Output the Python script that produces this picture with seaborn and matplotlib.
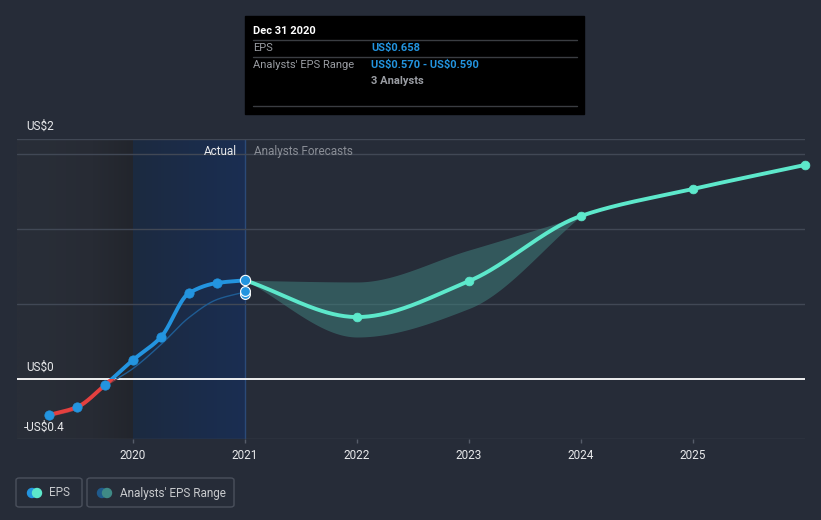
import numpy as np
import pandas as pd
import matplotlib
matplotlib.use("Agg")
import matplotlib.pyplot as plt
import seaborn as sns
from matplotlib.patches import Rectangle, FancyBboxPatch, Ellipse
from matplotlib.colors import LinearSegmentedColormap

# ---- data ----
actual_x = [2019.25, 2019.5, 2019.75, 2020.0, 2020.25, 2020.5, 2020.75, 2021.0]
actual_eps = [-0.24, -0.187, -0.04, 0.127, 0.28, 0.573, 0.64, 0.658]
past_estimate = [-0.25, -0.20, -0.05, 0.07, 0.23, 0.41, 0.53, 0.58]

forecast_x = [2021.0, 2022.0, 2023.0, 2024.0, 2025.0, 2026.0]
forecast_eps = [0.658, 0.413, 0.653, 1.087, 1.267, 1.427]

range_x = [2021.0, 2022.0, 2023.0, 2024.0]
range_low = [0.658, 0.28, 0.47, 1.087]
range_high = [0.658, 0.647, 0.86, 1.087]

last_range = [0.570, 0.590]
year_ticks = [2020, 2021, 2022, 2023, 2024, 2025]

BG = '#262c38'
BLUE = '#2394df'
RED = '#e4403f'
TEAL = '#5de8cb'
GRID = '#414855'

W, H = 821, 520


def monotone(x, y, n=300):
    # Fritsch-Carlson monotone cubic, just for drawing smooth curves
    x = np.asarray(x, float); y = np.asarray(y, float)
    h = np.diff(x); d = np.diff(y) / h
    m = np.zeros_like(y)
    m[0], m[-1] = d[0], d[-1]
    for i in range(1, len(y) - 1):
        if d[i - 1] * d[i] <= 0:
            m[i] = 0
        else:
            w1 = 2 * h[i] + h[i - 1]; w2 = h[i] + 2 * h[i - 1]
            m[i] = (w1 + w2) / (w1 / d[i - 1] + w2 / d[i])
    xs = np.linspace(x[0], x[-1], n)
    idx = np.clip(np.searchsorted(x, xs) - 1, 0, len(x) - 2)
    t = (xs - x[idx]) / h[idx]
    h00 = 2 * t**3 - 3 * t**2 + 1; h10 = t**3 - 2 * t**2 + t
    h01 = -2 * t**3 + 3 * t**2; h11 = t**3 - t**2
    ys = h00 * y[idx] + h10 * h[idx] * m[idx] + h01 * y[idx + 1] + h11 * h[idx] * m[idx + 1]
    return xs, ys


def fx(px):
    return px / W


def fy(py):
    return 1 - py / H


sns.set_theme(style="dark", rc={'figure.facecolor': BG, 'axes.facecolor': BG})
plt.rcParams['font.family'] = ['Roboto', 'DejaVu Sans']

fig = plt.figure(figsize=(W / 100, H / 100), dpi=100)
ax = fig.add_axes([fx(17), fy(439), (805 - 17) / W, 300 / H])
xmin, xmax = 2018.964, 2026.0
ymin, ymax = -0.4, 1.6
ax.set_xlim(xmin, xmax)
ax.set_ylim(ymin, ymax)
for s in ax.spines.values():
    s.set_visible(False)

# background shading for the past
grad = np.linspace(0, 1, 200).reshape(1, -1)
cm_dark = LinearSegmentedColormap.from_list('d', ['#292e38', '#272b34', '#22252c'])
cm_blue = LinearSegmentedColormap.from_list('b', ['#1c2a40', '#1a2e52'])
ax.imshow(grad ** 1.6, extent=[xmin, 2020.0, ymin, ymax], cmap=cm_dark, aspect='auto', zorder=0)
ax.imshow(grad, extent=[2020.0, 2021.0, ymin, ymax], cmap=cm_blue, aspect='auto', zorder=0)
ax.axvline(2021.0, color='#2b4a78', lw=1, zorder=1)

# grid
for g in [0.5, 1.0, 1.5, 1.6, -0.4]:
    ax.axhline(g, color=GRID, lw=1, zorder=1)
ax.axhline(0, color='white', lw=1.3, zorder=2)

# analyst range band
bx, blo = monotone(range_x, range_low)
_, bhi = monotone(range_x, range_high)
ax.fill_between(bx, blo, bhi, color='#3f7d7b', alpha=0.55, lw=0, zorder=2)

below = Rectangle((xmin, -5), xmax - xmin, 5, transform=ax.transData)
above = Rectangle((xmin, 0), xmax - xmin, 5, transform=ax.transData)

# past analyst estimate (thin)
px_, py_ = monotone(actual_x, past_estimate)
for col, clip in [('#7a3b45', below), ('#1f5c93', above)]:
    sns.lineplot(x=px_, y=py_, ax=ax, color=col, lw=1, sort=False, zorder=3)
    ax.lines[-1].set_clip_path(clip)

# actual EPS
ax_, ay_ = monotone(actual_x, actual_eps)
for col, clip in [(RED, below), (BLUE, above)]:
    sns.lineplot(x=ax_, y=ay_, ax=ax, color=col, lw=2.8, sort=False, zorder=4)
    ax.lines[-1].set_clip_path(clip)
sns.scatterplot(x=actual_x[:-1], y=actual_eps[:-1], ax=ax, color=BLUE, s=45,
                edgecolor=BLUE, zorder=6)

# forecast EPS
fx_, fy_ = monotone(forecast_x, forecast_eps)
sns.lineplot(x=fx_, y=fy_, ax=ax, color=TEAL, lw=2.8, sort=False, zorder=4)
sns.scatterplot(x=forecast_x[1:], y=forecast_eps[1:], ax=ax, color=TEAL, s=40,
                edgecolor=TEAL, zorder=6, clip_on=False)

# highlighted points at Dec 2020
sns.scatterplot(x=[2021.0] * 2, y=last_range, ax=ax, color=BLUE, s=50,
                edgecolor='white', linewidth=0.8, zorder=7)
sns.scatterplot(x=[2021.0], y=[actual_eps[-1]], ax=ax, color=BLUE, s=55,
                edgecolor='white', linewidth=0.8, zorder=8)

# axes ticks
ax.set_xticks(year_ticks)
ax.set_xticklabels([str(y) for y in year_ticks])
ax.tick_params(axis='x', colors='#565d6a', length=3, width=1, pad=4,
               labelcolor='#e8e9eb', labelsize=8.5, bottom=True)
ax.set_yticks([])
ax.grid(False)
ax.set_xlabel('')
ax.set_ylabel('')

# y labels
fig.text(fx(26), fy(126), 'US\\$2', color='#e8e9eb', fontsize=8.5, va='center')
fig.text(fx(26), fy(367), 'US\\$0', color='#e8e9eb', fontsize=8.5, va='center')
fig.text(fx(24), fy(427), '-US\\$0.4', color='#e8e9eb', fontsize=8.5, va='center')

fig.text(fx(237), fy(151), 'Actual', color='#e8e9eb', fontsize=8.5, va='center', ha='right')
fig.text(fx(254), fy(151), 'Analysts Forecasts', color='#8a8e96', fontsize=8.5, va='center')

# tooltip
fig.add_artist(Rectangle((fx(245), fy(114)), 339 / W, 98 / H, transform=fig.transFigure,
                         color='black', zorder=10))
fig.text(fx(253), fy(31), 'Dec 31 2020', color='white', fontsize=8, fontweight='bold',
         va='center', zorder=11)
for yy in [40, 57, 106]:
    fig.add_artist(plt.Line2D([fx(253), fx(577)], [fy(yy), fy(yy)], color='#3a3d42',
                              lw=1, transform=fig.transFigure, zorder=11))
fig.text(fx(253), fy(48), 'EPS', color='#9a9da3', fontsize=8, va='center', zorder=11)
fig.text(fx(371), fy(48), 'US\\$0.658', color=BLUE, fontsize=8, fontweight='bold',
         va='center', zorder=11)
fig.text(fx(253), fy(65), "Analysts' EPS Range", color='#9a9da3', fontsize=8,
         va='center', zorder=11)
fig.text(fx(371), fy(65), 'US\\$0.570 - US\\$0.590', color=BLUE, fontsize=8,
         fontweight='bold', va='center', zorder=11)
fig.text(fx(371), fy(81), '3 Analysts', color='#9a9da3', fontsize=8, fontweight='bold',
         va='center', zorder=11)

# legend
for x0, x1 in [(16, 82), (87, 234)]:
    fig.add_artist(FancyBboxPatch((fx(x0), fy(507)), (x1 - x0) / W, 29 / H,
                                  boxstyle='round,pad=0,rounding_size=0.004',
                                  transform=fig.transFigure, fc='none',
                                  ec='#4a505c', lw=1))
for cx, col in [(32, BLUE), (37, TEAL), (102, '#1f5a8c'), (107, '#3f8a86')]:
    fig.add_artist(Ellipse((fx(cx), fy(493)), 9 / W, 9 / H, transform=fig.transFigure,
                           color=col))
fig.text(fx(49), fy(493), 'EPS', color='#c8cacd', fontsize=8.5, va='center')
fig.text(fx(120), fy(493), "Analysts' EPS Range", color='#c8cacd', fontsize=8.5, va='center')

fig.savefig('out.png', dpi=100, facecolor=BG)
